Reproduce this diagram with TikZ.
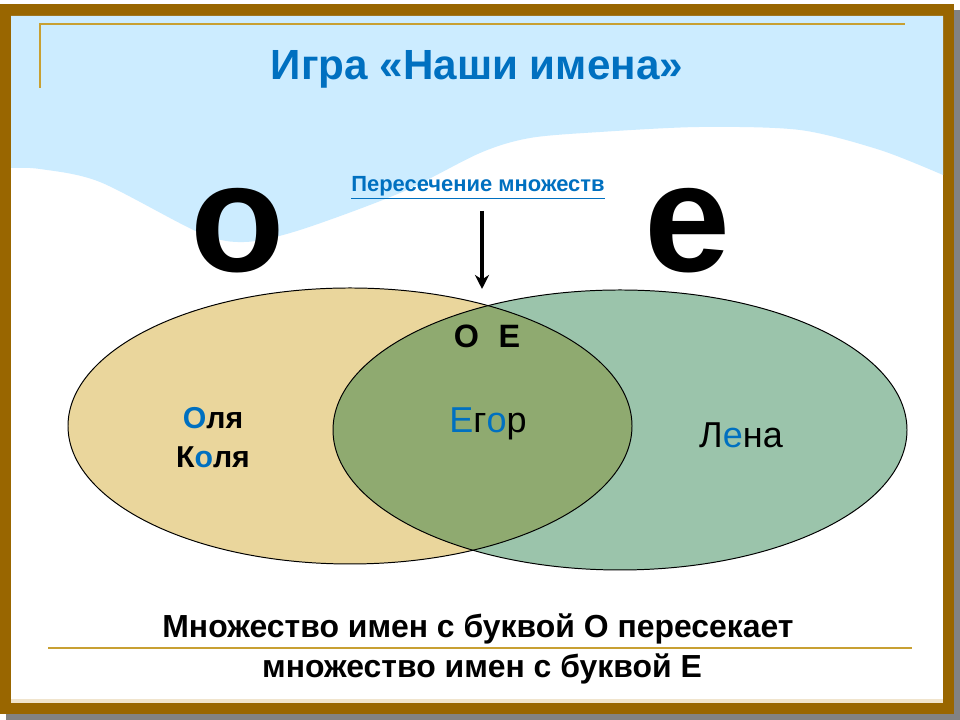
\documentclass[tikz,border=0pt]{standalone}
\usepackage{fontspec}
\setmainfont{Liberation Sans}
\usetikzlibrary{arrows.meta}

\definecolor{framebrown}{RGB}{153,102,0}
\definecolor{framegold}{RGB}{200,160,50}
\definecolor{framestrip}{RGB}{240,228,205}
\definecolor{shadowgray}{RGB}{130,130,130}
\definecolor{sky}{RGB}{204,236,255}
\definecolor{setO}{RGB}{234,214,156}
\definecolor{setE}{RGB}{155,196,171}
\definecolor{setOE}{RGB}{143,170,112}
\definecolor{textblue}{RGB}{0,112,192}

\begin{document}
\begin{tikzpicture}[x=0.025cm, y=0.025cm,
        txt/.style={inner sep=0pt, anchor=base},
        namebold/.style={txt, font=\fontsize{21.5}{25}\selectfont\bfseries},
        nameplain/.style={txt, font=\fontsize{25.6}{30}\selectfont},
        bigletter/.style={txt, font=\fontsize{110}{120}\selectfont\bfseries},
        caption/.style={txt, font=\fontsize{22.7}{27}\selectfont\bfseries},
        goldline/.style={draw=framegold, line width=2pt},
        setline/.style={draw=black, line width=0.7pt},
        pointer/.style={line width=2.2pt, -{Stealth[length=10pt, width=10pt]}}]

        \useasboundingbox (0,0) rectangle (960,720);
        \fill[shadowgray] (6,0) rectangle (960,710);
        \fill[framebrown] (0,6) rectangle (954,716);
        \fill[white] (11,17) rectangle (943,704);
        \fill[framestrip] (11,17) rectangle (943,21);
        \fill[sky] (11,704) -- plot[smooth] coordinates {(11,552) (40,551) (100,538) (200,487) (245,478) (300,490) (400,527) (480,567) (530,582) (600,588) (700,593) (800,590) (880,570) (943,545)} -- (943,704) -- cycle;

        \draw[goldline] (40,632) -- (40,696) -- (905,696);
        \draw[goldline] (48,72) -- (912,72);

        \fill[setO] (350,294) ellipse (282 and 138);
        \fill[setE] (620,290) ellipse (287 and 140);
        \begin{scope}
            \clip (350,294) ellipse (282 and 138);
            \fill[setOE] (620,290) ellipse (287 and 140);
        \end{scope}
        \draw[setline] (350,294) ellipse (282 and 138);
        \draw[setline] (620,290) ellipse (287 and 140);

        \draw (477,640) node [txt, font=\fontsize{30}{35}\selectfont\bfseries, text=textblue] (title) {Игра «Наши имена»};
        \draw (478,528) node [txt, font=\fontsize{15.6}{19}\selectfont\bfseries, text=textblue] (cutlabel) {\underline{Пересечение множеств}};
        \draw (482,431) coordinate (cut);
        \draw[pointer, shorten <=8pt] (cutlabel.south -| cut) -- (cut);

        \draw (238,448) node [bigletter] (bigO) {о};
        \draw (688,448) node [bigletter] (bigE) {е};

        \draw (487,372) node [txt, font=\fontsize{23}{27}\selectfont\bfseries] (letters) {О\hspace{0.6em}Е};
        \draw (213,291) node [namebold] (olya) {\textcolor{textblue}{О}ля};
        \draw (213,252) node [namebold] (kolya) {К\textcolor{textblue}{о}ля};
        \draw (488,287) node [nameplain] (egor) {\textcolor{textblue}{Е}г\textcolor{textblue}{о}р};
        \draw (741,272) node [nameplain] (lena) {Л\textcolor{textblue}{е}на};

        \draw (478,82) node [caption] (line1) {Множество имен с буквой О пересекает};
        \draw (482,42) node [caption] (line2) {множество имен с буквой Е};
    \end{tikzpicture}
\end{document}
